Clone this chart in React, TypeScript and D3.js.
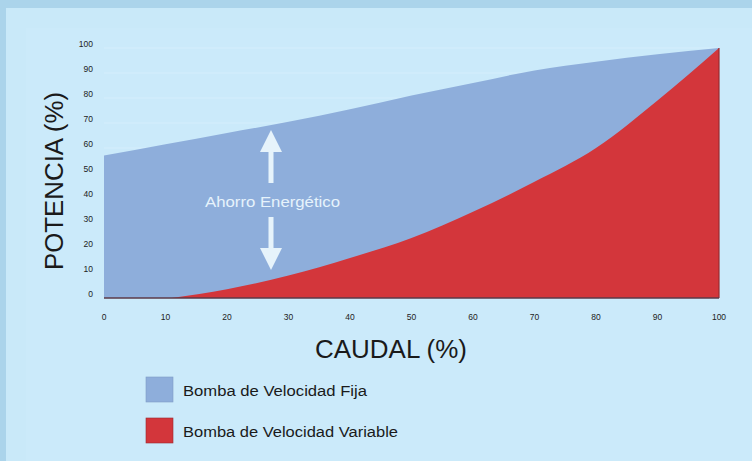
import React from "react";
import { scaleLinear, area, curveMonotoneX } from "d3";

const caudalTicks = [0, 10, 20, 30, 40, 50, 60, 70, 80, 90, 100];
const potenciaTicks = [0, 10, 20, 30, 40, 50, 60, 70, 80, 90, 100];
const gridTicks = [60, 70, 80, 90, 100];

const fijaCaudal = [0, 10, 20, 30, 40, 50, 60, 70, 80, 90, 100];
const fijaPotencia = [57, 61.5, 66, 70.5, 75.5, 81, 86, 91, 94.5, 97.5, 100];

const variableCaudal = [11, 20, 30, 40, 50, 60, 70, 80, 90, 100];
const variablePotencia = [0, 3.5, 9, 16, 24, 34.5, 46.5, 60, 79, 100];

const legendLabels = ["Bomba de Velocidad Fija", "Bomba de Velocidad Variable"];
const legendWidths = [184, 215];
const legendColors = ["#8eaedb", "#d3363b"];

const W = 752;
const H = 461;

export default function App() {
  const x = scaleLinear().domain([0, 100]).range([104, 719]);
  const y = scaleLinear().domain([0, 100]).range([298, 48]);

  const makeArea = area<[number, number]>()
    .x((d) => x(d[0]))
    .y0(y(0))
    .y1((d) => y(d[1]))
    .curve(curveMonotoneX);

  const fija = makeArea(fijaCaudal.map((c, i) => [c, fijaPotencia[i]]));
  const variable = makeArea(variableCaudal.map((c, i) => [c, variablePotencia[i]]));

  const ax = 271;
  const font = "Arial, 'Liberation Sans', sans-serif";

  return (
    <svg
      width={W}
      height={H}
      style={{ position: "absolute", left: 0, top: 0 }}
      fontFamily={font}
    >
      <rect width={W} height={H} fill="#abd4eb" />
      <rect x={6} y={8} width={W - 6} height={H - 8} fill="#c9e9f9" />
      <rect x={26} y={28} width={W - 26} height={H - 28} fill="#cbeafa" />

      {gridTicks.map((t) => (
        <line key={t} x1={x(0)} x2={x(100)} y1={y(t)} y2={y(t)} stroke="#d5eefb" strokeWidth={1.2} />
      ))}

      <path d={fija ?? ""} fill={legendColors[0]} />
      <path d={variable ?? ""} fill={legendColors[1]} />
      <line x1={x(100)} x2={x(100)} y1={y(0)} y2={y(100)} stroke="#9a2a30" strokeWidth={1.2} />
      <line x1={x(0)} x2={x(100)} y1={y(0)} y2={y(0)} stroke="#5b3a48" strokeWidth={1.5} />

      {potenciaTicks.map((t) => (
        <text key={t} x={93} y={y(t) - 3} fontSize={8.5} fill="#222" textAnchor="end" dominantBaseline="middle">
          {t}
        </text>
      ))}
      {caudalTicks.map((t) => (
        <text key={t} x={x(t)} y={320} fontSize={8.5} fill="#222" textAnchor="middle">
          {t}
        </text>
      ))}

      <text x={315} y={358} fontSize={25} fill="#1a1a1a" textLength={152} lengthAdjust="spacingAndGlyphs">
        CAUDAL (%)
      </text>
      <text
        transform="translate(63,270) rotate(-90)"
        fontSize={25}
        fill="#1a1a1a"
        textLength={178}
        lengthAdjust="spacingAndGlyphs"
      >
        POTENCIA (%)
      </text>

      {/* ahorro arrows */}
      <g fill="#e6f3fb">
        <rect x={ax - 2.5} y={150} width={5} height={33} />
        <path d={`M${ax},130 L${ax + 11},152 L${ax - 11},152 Z`} />
        <rect x={ax - 2.5} y={217} width={5} height={33} />
        <path d={`M${ax},270 L${ax + 11},248 L${ax - 11},248 Z`} />
        <text x={205} y={207} fontSize={14} textLength={135} lengthAdjust="spacingAndGlyphs">
          Ahorro Energético
        </text>
      </g>

      {legendLabels.map((l, i) => (
        <g key={l} transform={`translate(146,${377 + i * 41})`}>
          <rect width={27} height={25} fill={legendColors[i]} stroke={i ? "#9a2a30" : "#7f9cc6"} strokeWidth={0.6} />
          <text x={37} y={19} fontSize={14} fill="#1a1a1a" textLength={legendWidths[i]} lengthAdjust="spacingAndGlyphs">
            {l}
          </text>
        </g>
      ))}
    </svg>
  );
}
